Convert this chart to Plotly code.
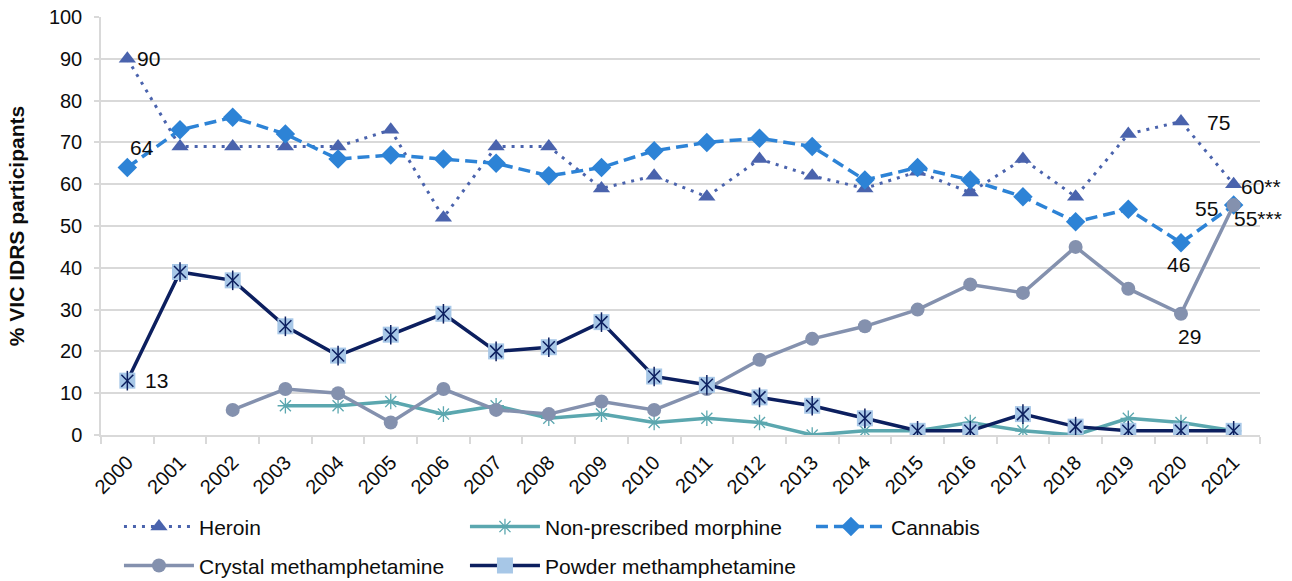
import plotly.graph_objects as go

years = [str(y) for y in range(2000, 2022)]
heroin = [90, 69, 69, 69, 69, 73, 52, 69, 69, 59, 62, 57, 66, 62, 59, 63, 58, 66, 57, 72, 75, 60]
morphine = [None, None, None, 7, 7, 8, 5, 7, 4, 5, 3, 4, 3, 0, 1, 1, 3, 1, 0, 4, 3, 1]
cannabis = [64, 73, 76, 72, 66, 67, 66, 65, 62, 64, 68, 70, 71, 69, 61, 64, 61, 57, 51, 54, 46, 55]
crystal = [None, None, 6, 11, 10, 3, 11, 6, 5, 8, 6, 11, 18, 23, 26, 30, 36, 34, 45, 35, 29, 55]
powder = [13, 39, 37, 26, 19, 24, 29, 20, 21, 27, 14, 12, 9, 7, 4, 1, 1, 5, 2, 1, 1, 1]

xi = list(range(len(years)))  # category positions
bounds = [i - 0.5 for i in range(len(years) + 1)]  # category boundaries (tick marks)

C_HER = "#4A63AD"
C_MOR = "#5BA7AF"
C_CAN = "#2D83D6"
C_CRY = "#8491AE"
C_POW = "#0C1F5F"
C_POWFILL = "#A7C7E7"
TXT = "#0D0D0D"

FONT = "Liberation Sans, Arial, sans-serif"

fig = go.Figure()

fig.add_trace(go.Scatter(
    x=xi, y=heroin, name="Heroin", mode="lines+markers", legend="legend",
    line=dict(color=C_HER, width=3, dash="3px,6px"),
    marker=dict(symbol="triangle-up", size=15, color=C_HER),
))
fig.add_trace(go.Scatter(
    x=xi, y=morphine, name="Non-prescribed morphine", mode="lines+markers", legend="legend",
    line=dict(color=C_MOR, width=3.5),
    marker=dict(symbol="asterisk-open", size=13, color=C_MOR, line=dict(color=C_MOR, width=1.3)),
))
fig.add_trace(go.Scatter(
    x=xi, y=cannabis, name="Cannabis", mode="lines+markers", legend="legend",
    line=dict(color=C_CAN, width=3.5, dash="12px,6px"),
    marker=dict(symbol="diamond", size=15, color=C_CAN),
))
fig.add_trace(go.Scatter(
    x=xi, y=crystal, name="Crystal methamphetamine", mode="lines+markers", legend="legend2",
    line=dict(color=C_CRY, width=3.5),
    marker=dict(symbol="circle", size=14, color=C_CRY),
))
fig.add_trace(go.Scatter(
    x=xi, y=powder, name="Powder methamphetamine", mode="lines+markers", legend="legend2",
    line=dict(color=C_POW, width=3.5),
    marker=dict(symbol="square", size=16, color=C_POWFILL, line=dict(width=0)),
))
fig.add_trace(go.Scatter(
    x=xi, y=powder, mode="markers", showlegend=False, hoverinfo="skip",
    marker=dict(symbol="x-thin-open", size=12, color=C_POW, line=dict(color=C_POW, width=1.5)),
))
fig.add_trace(go.Scatter(
    x=xi, y=powder, mode="markers", showlegend=False, hoverinfo="skip",
    marker=dict(symbol="line-ns-open", size=14, color=C_POW, line=dict(color=C_POW, width=1.5)),
))

# data labels: (category index, value, text, xanchor, xshift, yshift)
labels = [
    (0, heroin[0], "90", "left", 8, 0),
    (0, cannabis[0], "64", "left", 1, 20),
    (0, powder[0], "13", "left", 16, 0),
    (20, heroin[20], "75", "left", 24, -1),
    (21, heroin[21], "60**", "left", 5, -2),
    (21, crystal[21], "55", "right", -14, -3),
    (21, cannabis[21], "55***", "left", -2, -13),
    (20, cannabis[20], "46", "center", -2, -22),
    (20, crystal[20], "29", "center", 9, -23),
]
for x, y, t, xa, xs, ys in labels:
    fig.add_annotation(x=x, y=y, text=t, showarrow=False, xanchor=xa, yanchor="middle",
                       xshift=xs, yshift=ys, font=dict(family=FONT, size=21, color=TXT))

grid = "#D9D9D9"
fig.update_layout(
    width=1292, height=581,
    margin=dict(l=101, r=32, t=17, b=146, autoexpand=False),
    paper_bgcolor="white", plot_bgcolor="white",
    font=dict(family=FONT, size=21, color=TXT),
    showlegend=True,
    legend=dict(orientation="h", x=0.0155, xanchor="left", y=-0.22, yanchor="middle",
                itemwidth=70, entrywidth=261, entrywidthmode="pixels",
                font=dict(family=FONT, size=21, color=TXT), bgcolor="rgba(0,0,0,0)",
                traceorder="normal"),
    legend2=dict(orientation="h", x=0.0155, xanchor="left", y=-0.313, yanchor="middle",
                 itemwidth=70, entrywidth=261, entrywidthmode="pixels",
                 font=dict(family=FONT, size=21, color=TXT), bgcolor="rgba(0,0,0,0)",
                 traceorder="normal"),
    xaxis=dict(range=[-0.5, len(years) - 0.5], tickmode="array", tickvals=xi, ticktext=years,
               ticks="", showline=True, linecolor=grid, linewidth=1.5,
               showgrid=False, zeroline=False, tickangle=-45, automargin=False,
               ticklabelstandoff=6, ticklabeloverflow="allow",
               tickfont=dict(family=FONT, size=20, color=TXT),
               minor=dict(tickmode="array", tickvals=bounds, ticks="outside", ticklen=7,
                          tickcolor=grid, tickwidth=1.5, showgrid=False)),
    yaxis=dict(range=[0, 100], tickmode="array", tickvals=list(range(0, 101, 10)),
               ticks="outside", ticklen=5, tickcolor=grid,
               tickwidth=1.5, ticklabeloverflow="allow",
               showline=True, linecolor=grid, linewidth=1.5, gridcolor=grid, gridwidth=1.5,
               zeroline=False, automargin=False, ticklabelstandoff=8,
               tickfont=dict(family=FONT, size=20, color=TXT),
               title=dict(text="<b>% VIC IDRS participants</b>", standoff=19,
                          font=dict(family=FONT, size=21, color=TXT))),
)

fig.write_html("out.html", config={"displayModeBar": False},
               post_script="document.body.style.margin='0px';document.body.style.overflow='hidden';")
